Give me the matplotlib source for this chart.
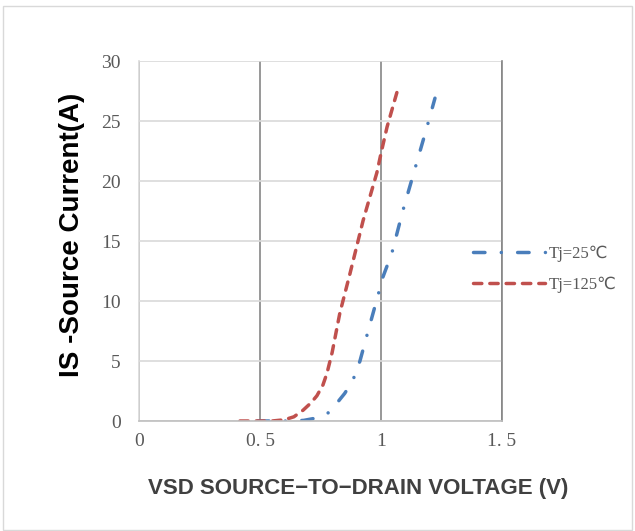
import matplotlib.pyplot as plt
from matplotlib.patches import Rectangle

# Tj=25C curve
v25 = [0.49, 0.62, 0.68, 0.72, 0.75, 0.777, 0.80, 0.822, 0.85, 0.884, 0.913, 0.94, 0.988,
       1.008, 1.045, 1.09, 1.14, 1.19, 1.223]
i25 = [0.0, 0.0, 0.05, 0.2, 0.35, 0.6, 1.0, 1.6, 2.3, 3.4, 5.0, 7.0, 10.5,
       12.0, 14.0, 17.5, 21.0, 24.5, 26.9]

# Tj=125C curve
v125 = [0.417, 0.55, 0.60, 0.64, 0.678, 0.71, 0.735, 0.76, 0.777, 0.798, 0.83, 0.872, 0.926,
        0.983, 1.0, 1.025, 1.066]
i125 = [0.0, 0.0, 0.1, 0.35, 0.9, 1.5, 2.1, 3.0, 4.0, 5.7, 9.0, 12.3, 16.7,
        20.7, 22.3, 24.5, 27.4]

xticks = [0, 0.5, 1, 1.5]
xticklabels = ['0', '0. 5', '1', '1. 5']
yticks = [0, 5, 10, 15, 20, 25, 30]

fig = plt.figure(figsize=(6.35, 5.31), dpi=100)
ax = fig.add_axes([139 / 635, 1 - 421 / 531, 363 / 635, 360 / 531])

ax.plot(v25, i25, color='#4a7ebb', lw=2.5, dashes=[3.3, 4.7, 0.01, 4.7],
        dash_capstyle='round', label='Tj=25℃')
ax.plot(v125, i125, color='#c0504d', lw=2.5, dashes=[2.4, 2.3],
        dash_capstyle='round', label='Tj=125℃')

ax.set_xlim(0, 1.5)
ax.set_ylim(0, 30)
ax.set_xticks(xticks)
ax.set_xticklabels(xticklabels)
ax.set_yticks(yticks)
ax.tick_params(length=0, labelsize=14, colors='#595959')
ax.tick_params(axis='x', pad=9)
ax.tick_params(axis='y', pad=13)
for lab in ax.get_xticklabels() + ax.get_yticklabels():
    lab.set_family(['Liberation Serif', 'DejaVu Serif'])

ax.grid(axis='y', color='#d9d9d9', lw=1.2)
ax.grid(axis='x', color='#868686', lw=1.2)
ax.set_axisbelow(True)
ax.spines['top'].set_visible(False)
ax.spines['left'].set_color('#d9d9d9')
ax.spines['bottom'].set_color('#bfbfbf')
ax.spines['right'].set_color('#868686')
for s in ax.spines.values():
    s.set_linewidth(1.2)

ax.set_xlabel('VSD SOURCE\u2212TO\u2212DRAIN VOLTAGE (V)', fontsize=16, fontweight='bold',
              family='Liberation Sans', color='#404040')
ax.xaxis.set_label_coords(0.603, -0.158)
ax.set_ylabel('IS -Source Current(A)', fontsize=20, fontweight='bold',
              family='Liberation Sans', color='#000000')
ax.yaxis.set_label_coords(-0.15, 0.517)

leg = ax.legend(loc='center left', bbox_to_anchor=(0.88, 0.422), frameon=False,
                handlelength=4.3, handletextpad=0.2, labelspacing=0.85,
                prop={'family': ['Liberation Serif', 'DejaVu Sans'], 'size': 12})
for t in leg.get_texts():
    t.set_color('#595959')

fig.patches.append(Rectangle((3 / 635, 1 / 531), 629 / 635, 524 / 531, transform=fig.transFigure,
                             fill=False, edgecolor='#d9d9d9', lw=1))

fig.savefig('out.png', dpi=100)
